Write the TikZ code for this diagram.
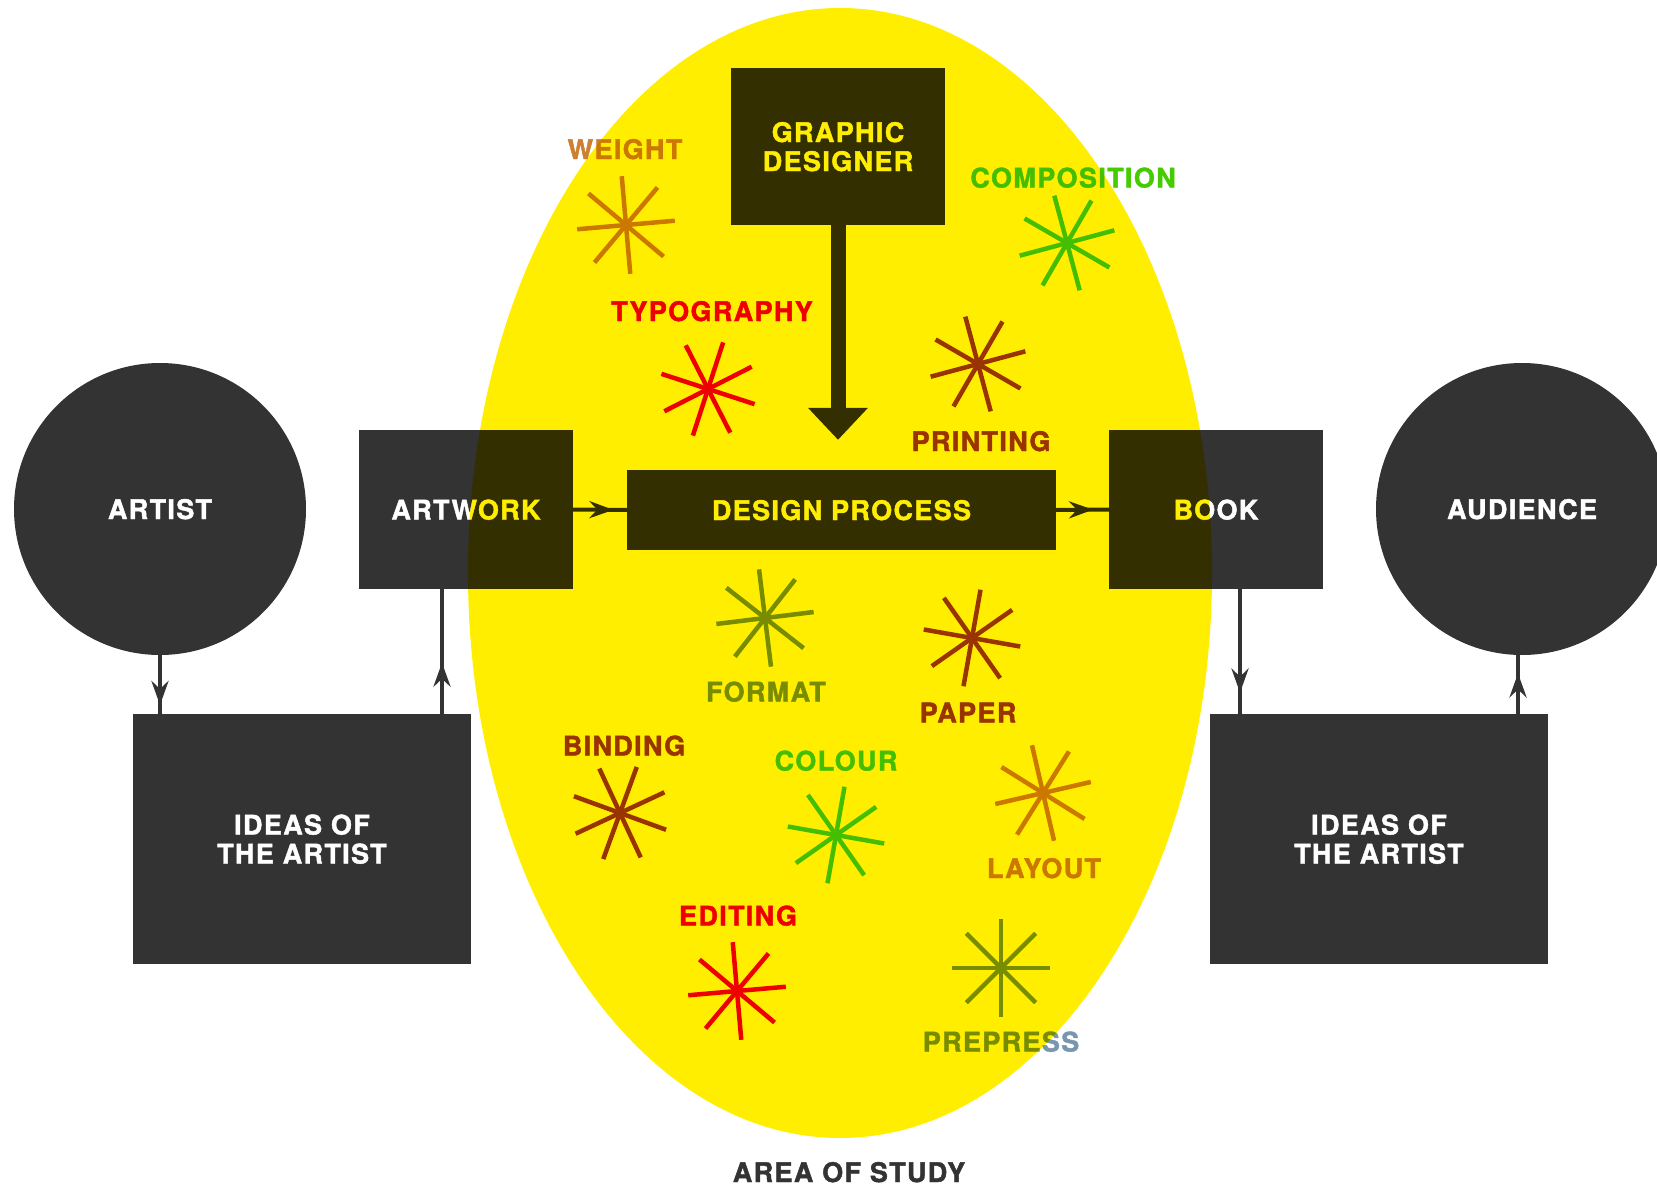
\documentclass[tikz,border=0pt]{standalone}
\usepackage{fontspec}
\setmainfont{TeX Gyre Heros}[LetterSpace=5,BoldFeatures={FakeBold=1.6}]
\usetikzlibrary{arrows.meta,decorations.markings}
\definecolor{dark}{HTML}{333333}
\definecolor{studyyellow}{HTML}{FFEE00}
\definecolor{orangec}{HTML}{CC8030}
\definecolor{greenc}{HTML}{44CC00}
\definecolor{redc}{HTML}{EE0000}
\definecolor{brownc}{HTML}{993700}
\definecolor{slatec}{HTML}{7896AE}

\begin{document}
\begin{tikzpicture}[x=1pt,y=-1pt,
  every node/.style={font=\fontsize{27}{29}\selectfont\bfseries,text depth=0pt},
  block/.style={fill=dark,text=white,inner sep=0pt,align=center},
  disc/.style={circle,fill=dark,text=white,minimum size=292pt,inner sep=0pt},
  link/.style={draw=dark,line width=4pt,postaction={decorate},
    decoration={markings,mark=at position #1 with {\arrow{Stealth[length=24pt,width=17pt,inset=8pt]}}}},
  ray/.style={line width=4.5pt},
  tag/.style={inner sep=0pt}]
  \useasboundingbox (0,0) rectangle (1657,1185);
  \clip (0,0) rectangle (1657,1185);

  \node[disc] (artist) at (160,509) {ARTIST};
  \node[disc] (audience) at (1522,509) {AUDIENCE};
  \node[block,minimum width=214pt,minimum height=159pt] (artwork) at (466,509.5) {ARTWORK};
  \node[block,minimum width=214pt,minimum height=159pt] (book) at (1216,509.5) {BOOK};
  \node[block,minimum width=429pt,minimum height=80pt] (process) at (841.5,510) {DESIGN PROCESS};
  \node[block,minimum width=214pt,minimum height=157pt] (designer) at (838,146.5) {GRAPHIC\\DESIGNER};
  \node[block,minimum width=338pt,minimum height=250pt] (ideasl) at (302,839) {IDEAS OF\\THE ARTIST};
  \node[block,minimum width=338pt,minimum height=250pt] (ideasr) at (1379,839) {IDEAS OF\\THE ARTIST};

  \draw[link=0.85] (artist.south) -- (artist.south |- ideasl.north);
  \draw[link=0.41] ([xshift=-24pt]artwork.south |- ideasl.north) -- ([xshift=-24pt]artwork.south);
  \draw[link=0.75] (artwork.east) -- (process.west);
  \draw[link=0.7] (process.east) -- (book.west);
  \draw[link=0.83] ([xshift=24pt]book.south) -- ([xshift=24pt]book.south |- ideasr.north);
  \draw[link=0.69] ([xshift=-4pt]audience.south |- ideasr.north) -- ([xshift=-4pt]audience.south);

  \draw[dark,line width=15pt,shorten >=30pt,-{Triangle[length=32pt,width=58pt]}] (designer.south) -- (designer.south |- process.north);

  % the stars and their words
  \foreach \name/\sx/\sy/\rot/\col/\lx/\ly/\txt in {
      weight/626/225/-5/orangec/625/149/WEIGHT,
      composition/1067/243/-15/greenc/1073/177.5/COMPOSITION,
      typography/708/389/18/redc/712/311/TYPOGRAPHY,
      printing/978/364/-15/brownc/981/441/PRINTING,
      format/765/618/-7/slatec/766/691.5/FORMAT,
      paper/972/638/10/brownc/968/712.5/PAPER,
      binding/620/813/20/brownc/624/745.5/BINDING,
      colour/836/835/10/greenc/836/760.5/COLOUR,
      layout/1043/793/-13/orangec/1044/868/LAYOUT,
      editing/737/991/-5/redc/738/915.5/EDITING,
      prepress/1001/968/0/slatec/1001/1041.5/PREPRESS} {
    \foreach \a in {0,45,90,135}
      \draw[ray,\col] (\sx,\sy) ++(\rot+\a:49) -- ++(\rot+\a+180:98);
    \node[tag,text=\col] (\name) at (\lx,\ly) {\txt};
  }

  \fill[studyyellow,blend mode=multiply] (840,573) ellipse[x radius=372pt,y radius=565pt];
  \node[tag,text=dark] (area) at (849,1172) {AREA OF STUDY};
\end{tikzpicture}
\end{document}
